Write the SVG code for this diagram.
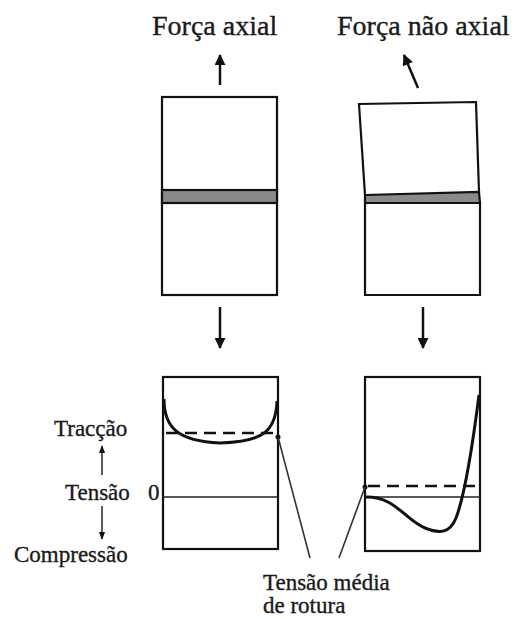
<svg xmlns="http://www.w3.org/2000/svg" width="515" height="619" viewBox="0 0 515 619">
<style>
text{font-family:"Liberation Serif","Times New Roman",serif;fill:#1a1a1a;stroke:#1a1a1a;stroke-width:0.35}
.t{font-size:28px}
.l{font-size:23px}
.box{fill:none;stroke:#111;stroke-width:2.2}
.band{fill:#8a8a8a;stroke:#111;stroke-width:2.2}
.ar{stroke:#111;stroke-width:2.5;fill:none}
.cur{fill:none;stroke:#111;stroke-width:3}
.dash{fill:none;stroke:#111;stroke-width:2.5;stroke-dasharray:12 7}
.zero{stroke:#222;stroke-width:1.6}
.ptr{stroke:#333;stroke-width:1.6;fill:none}
</style>
<defs>
<marker id="ah" viewBox="0 0 10 10" refX="9" refY="5" markerWidth="5" markerHeight="4.4" orient="auto" markerUnits="strokeWidth">
<path d="M0,0 L10,5 L0,10 z" fill="#111"/>
</marker>
<marker id="sh" viewBox="0 0 10 10" refX="9" refY="5" markerWidth="5" markerHeight="5" orient="auto" markerUnits="strokeWidth">
<path d="M0,1 L10,5 L0,9 z" fill="#111"/>
</marker>
</defs>
<g id="title-axial"><text class="t" x="152" y="35">Força axial</text></g>
<g id="title-nonaxial"><text class="t" x="337" y="35">Força não axial</text></g>
<g id="specimen-axial">
<rect class="box" x="162" y="97" width="115" height="198"/>
<rect class="band" x="162" y="190" width="115" height="13"/>
</g>
<g id="specimen-nonaxial">
<path class="box" d="M365,195 L359,104 L476,102 L479,192"/>
<path class="band" d="M365,195 L479,192 L480,203 L365,203 Z"/>
<path class="box" d="M365,203 L365,295 L480,295 L480,203"/>
</g>
<g id="stress-axial">
<rect class="box" x="163" y="377" width="115" height="172"/>
<line class="zero" x1="163" y1="497" x2="278" y2="497"/>
<line class="dash" x1="166" y1="433" x2="276" y2="433"/>
<path class="cur" d="M164,399 C164,428 178,441 220,443 C262,442 276,432 277,401"/>
<circle cx="278" cy="437" r="2.5" fill="#111"/>
</g>
<g id="stress-nonaxial">
<rect class="box" x="365" y="377" width="115" height="174"/>
<line class="zero" x1="365" y1="497" x2="480" y2="497"/>
<line class="dash" x1="368" y1="486" x2="480" y2="486"/>
<path class="cur" d="M365,497 C395,496 405,520 425,528 C440,534 450,533 456,518 C465,495 472,450 479,395"/>
<circle cx="365" cy="487" r="2.5" fill="#111"/>
</g>
<g id="axis-labels">
<text class="l" x="54" y="436">Tracção</text>
<text class="l" x="65" y="500">Tensão</text>
<text class="l" x="148" y="500">0</text>
<text class="l" x="14" y="562">Compressão</text>
</g>
<g id="note">
<text class="l" x="263" y="590">Tensão média</text>
<text class="l" x="263" y="613">de rotura</text>
</g>
<g id="connectors">
<line class="ar" x1="220" y1="85" x2="220" y2="55" marker-end="url(#ah)"/>
<line class="ar" x1="418" y1="88" x2="404" y2="55" marker-end="url(#ah)"/>
<line class="ar" x1="220" y1="307" x2="220" y2="348" marker-end="url(#ah)"/>
<line class="ar" x1="423" y1="307" x2="423" y2="348" marker-end="url(#ah)"/>
<line class="ptr" x1="102" y1="475" x2="102" y2="446" marker-end="url(#sh)"/>
<line class="ptr" x1="102" y1="506" x2="102" y2="539" marker-end="url(#sh)"/>
<line class="ptr" x1="310" y1="558" x2="278" y2="437"/>
<line class="ptr" x1="339" y1="558" x2="365" y2="487"/>
</g>
</svg>
